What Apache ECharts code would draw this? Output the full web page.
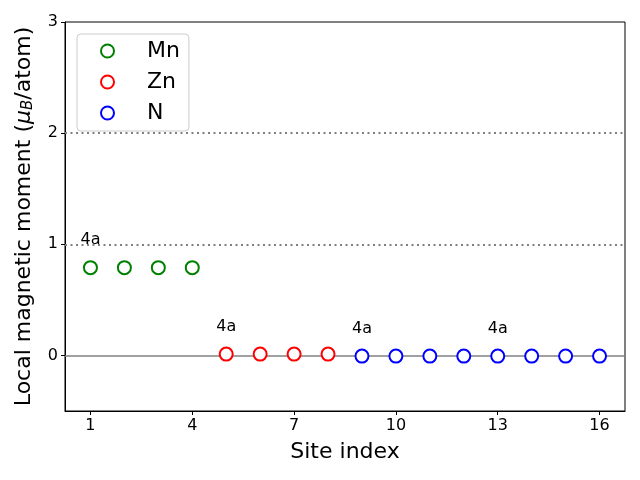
<!DOCTYPE html>
<html><head><meta charset="utf-8">
<script src="https://cdn.jsdelivr.net/npm/echarts@6/dist/echarts.min.js"></script>
<style>html,body{margin:0;padding:0;background:#fff}#c{width:640px;height:480px}</style>
</head><body><div id="c"></div>
<script>
const mnSites = [1, 2, 3, 4];
const mnMoments = [0.79, 0.79, 0.79, 0.79];
const znSites = [5, 6, 7, 8];
const znMoments = [0.012, 0.012, 0.012, 0.012];
const nSites = [9, 10, 11, 12, 13, 14, 15, 16];
const nMoments = [-0.006, -0.006, -0.006, -0.006, -0.006, -0.006, -0.006, -0.006];
const wyckoffSites = [1, 5, 9, 13];
const wyckoffLabel = '4a';
const xTicks = [1, 4, 7, 10, 13, 16];
const yTicks = [0, 1, 2, 3];
const dottedLevels = [1, 2];

const FONT = 'DejaVu Sans';
function pts(sites, vals) {
  return sites.map((s, i) => {
    const d = { value: [s, vals[i]] };
    if (wyckoffSites.includes(s)) {
      d.label = { show: true, formatter: wyckoffLabel, position: 'top', distance: 12,
        color: '#000', fontFamily: FONT, fontSize: 16 };
    }
    return d;
  });
}
const chart = echarts.init(document.getElementById('c'), null, { renderer: 'canvas' });
const mk = (name, sites, vals, color, extra) => Object.assign({
  name, type: 'scatter', symbol: 'emptyCircle', symbolSize: 13,
  itemStyle: { color: color, borderColor: color, borderWidth: 1.4, opacity: 1 },
  data: pts(sites, vals), z: 5
}, extra || {});
chart.setOption({
  animation: false,
  backgroundColor: '#fff',
  grid: { left: 65, right: 15, top: 22, bottom: 69, show: true, borderColor: '#000', borderWidth: 1, backgroundColor: 'transparent' },
  legend: {
    orient: 'vertical', left: 77, top: 34,
    data: [{ name: 'Mn', icon: 'emptyCircle' }, { name: 'Zn', icon: 'emptyCircle' }, { name: 'N', icon: 'emptyCircle' }],
    itemWidth: 13, itemHeight: 13, itemGap: 9,
    padding: [6, 9, 7, 23],
    backgroundColor: 'rgba(255,255,255,0.85)', borderColor: '#cccccc', borderWidth: 1, borderRadius: 4,
    textStyle: { fontFamily: FONT, fontSize: 22, color: '#000', lineHeight: 22, padding: [0, 0, 0, 28] },
    itemStyle: { borderWidth: 1.4, opacity: 1 }
  },
  xAxis: {
    type: 'value', min: 0.25, max: 16.75,
    name: 'Site index', nameLocation: 'middle', nameGap: 30,
    nameTextStyle: { fontFamily: FONT, fontSize: 22, color: '#000' },
    axisLine: { show: true, onZero: false, lineStyle: { color: '#000', width: 1 } },
    axisTick: { show: true, inside: false, length: 4, customValues: xTicks, lineStyle: { color: '#000' } },
    axisLabel: { customValues: xTicks, fontFamily: FONT, fontSize: 16, color: '#000', margin: 7 },
    splitLine: { show: false }
  },
  yAxis: {
    type: 'value', min: -0.5, max: 3,
    name: '{n|Local magnetic moment (}{mu|μ}{sub|B}{n|/atom)}',
    nameLocation: 'middle', nameGap: 29,
    nameTextStyle: {
      fontFamily: FONT, fontSize: 22, color: '#000',
      rich: {
        n: { fontFamily: FONT, fontSize: 22, color: '#000' },
        mu: { fontFamily: FONT, fontSize: 22, fontStyle: 'italic', color: '#000' },
        sub: { fontFamily: FONT, fontSize: 15, fontStyle: 'italic', color: '#000', verticalAlign: 'bottom', padding: [8, 0, 0, 0] }
      }
    },
    axisLine: { show: true, onZero: false, lineStyle: { color: '#000', width: 1 } },
    axisTick: { show: true, inside: false, length: 4, customValues: yTicks, lineStyle: { color: '#000' } },
    axisLabel: { customValues: yTicks, fontFamily: FONT, fontSize: 16, color: '#000', margin: 7 },
    splitLine: { show: false }
  },
  series: [
    mk('Mn', mnSites, mnMoments, '#008000', {
      markLine: {
        silent: true, symbol: 'none', label: { show: false }, z: 1,
        data: [
          { yAxis: 0, lineStyle: { color: '#808080', type: 'solid', width: 1.5, opacity: 1 } }
        ].concat(dottedLevels.map(v => ({ yAxis: v, lineStyle: { color: '#808080', type: [2, 3.5], width: 2, opacity: 1 } })))
      }
    }),
    mk('Zn', znSites, znMoments, '#ff0000'),
    mk('N', nSites, nMoments, '#0000ff')
  ]
});
</script></body></html>
